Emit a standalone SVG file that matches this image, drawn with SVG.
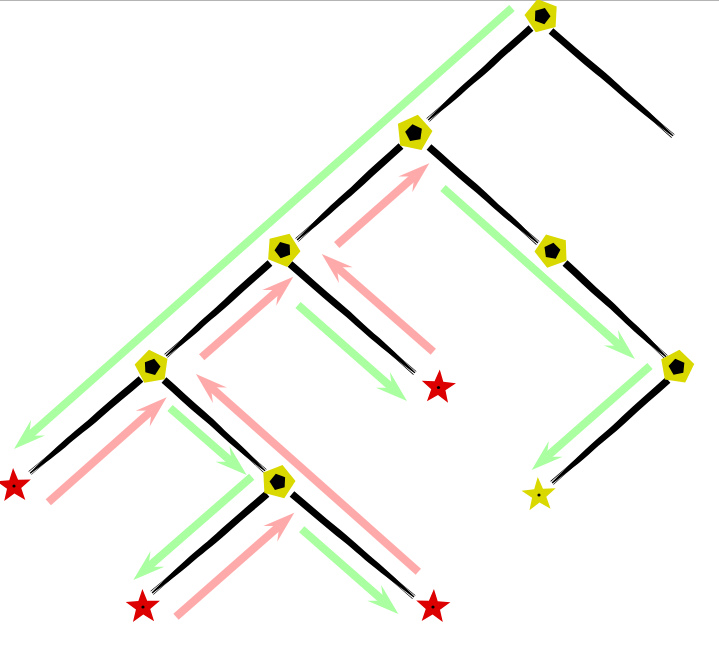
<svg xmlns="http://www.w3.org/2000/svg" xmlns:xlink="http://www.w3.org/1999/xlink" width="719" height="647" viewBox="0 0 719 647">
<style>
.g{stroke:#aaffa0;stroke-width:8;fill:none;marker-end:url(#hg)}
.p{stroke:#ffaaaa;stroke-width:8;fill:none;marker-end:url(#hp)}
.pent{fill:#d9d900}
.core{fill:#000}
.star{fill:#dd0000}
.ystar{fill:#d9d900}
.dot{fill:#000}
</style>
<defs>
<marker id="hg" markerUnits="userSpaceOnUse" orient="auto" refX="0" refY="0" markerWidth="40" markerHeight="30" overflow="visible"><path d="M20,0 L-12,-10.5 L0,0 L-12,10.5 Z" fill="#aaffa0"/></marker>
<marker id="hp" markerUnits="userSpaceOnUse" orient="auto" refX="0" refY="0" markerWidth="40" markerHeight="30" overflow="visible"><path d="M20,0 L-12,-10.5 L0,0 L-12,10.5 Z" fill="#ffaaaa"/></marker>
<g id="brush">
<path d="M0,-3.6 C12,-3.8 25,-3 38,-3.7 C50,-4.1 58,-2.6 70,-3.1 C82,-2.9 92,-1.7 100,-0.7 L100,0.5 C92,1.4 82,2.6 70,2.9 C58,3.3 50,2.4 38,3.3 C25,3.9 12,3.3 0,3.6 Z" fill="#000"/>
<path d="M70,-1.8 L100,-2.3 L100,-1.7 Z M70,1.8 L100,2.5 L100,1.8 Z" fill="#000"/>
</g>
<polygon id="pg" points="0,-17.5 16.64,-5.41 10.29,14.16 -10.29,14.16 -16.64,-5.41"/>
<polygon id="pk" points="0,-8.5 8.08,-2.63 5,6.88 -5,6.88 -8.08,-2.63"/>
<polygon id="st" points="0,-18 4.41,-6.07 17.12,-5.56 7.13,2.32 10.58,14.56 0,7.5 -10.58,14.56 -7.13,2.32 -17.12,-5.56 -4.41,-6.07"/>
</defs>
<rect x="0" y="0" width="719" height="647" fill="#fff"/>
<rect x="0" y="0" width="719" height="1" fill="#b4b4b4"/>
<g id="arrows">
<line class="g" x1="512" y1="8" x2="29" y2="435.7"/>
<line class="g" x1="443" y1="188" x2="620" y2="345.7"/>
<line class="g" x1="650" y1="366" x2="546.7" y2="456.8"/>
<line class="g" x1="298" y1="305" x2="392" y2="387.8"/>
<line class="g" x1="170" y1="408" x2="231.6" y2="461.8"/>
<line class="g" x1="251.7" y1="476.7" x2="148.4" y2="566.8"/>
<line class="g" x1="301.7" y1="529.3" x2="383.3" y2="600.8"/>
<line class="p" x1="336.7" y1="245" x2="414.3" y2="176.5"/>
<line class="p" x1="433.3" y1="351.7" x2="336.8" y2="267.2"/>
<line class="p" x1="201.7" y1="357.3" x2="278.3" y2="289.9"/>
<line class="p" x1="48.3" y1="502.3" x2="151.7" y2="410.6"/>
<line class="p" x1="418.3" y1="571.7" x2="210.9" y2="387.3"/>
<line class="p" x1="176" y1="616.7" x2="279.3" y2="525.9"/>
</g>
<g id="edges">
<use xlink:href="#brush" transform="translate(551,31) rotate(40.7) scale(1.61,1)"/>
<use xlink:href="#brush" transform="translate(531,28) rotate(138.2) scale(1.381,1)"/>
<use xlink:href="#brush" transform="translate(401,146) rotate(137.9) scale(1.402,1)"/>
<use xlink:href="#brush" transform="translate(429,147) rotate(41.4) scale(1.452,1)"/>
<use xlink:href="#brush" transform="translate(565,263) rotate(42.9) scale(1.38,1)"/>
<use xlink:href="#brush" transform="translate(290,264) rotate(41.1) scale(1.658,1)"/>
<use xlink:href="#brush" transform="translate(270,263) rotate(138.2) scale(1.395,1)"/>
<use xlink:href="#brush" transform="translate(141,379) rotate(139.7) scale(1.455,1)"/>
<use xlink:href="#brush" transform="translate(164,380) rotate(42) scale(1.36,1)"/>
<use xlink:href="#brush" transform="translate(267,494) rotate(139.3) scale(1.517,1)"/>
<use xlink:href="#brush" transform="translate(292,494) rotate(40.2) scale(1.597,1)"/>
<use xlink:href="#brush" transform="translate(668,380) rotate(138.4) scale(1.551,1)"/>
</g>
<g id="n1" transform="translate(542,16)"><use xlink:href="#pg" class="pent" transform="rotate(-15)"/><use xlink:href="#pk" class="core" transform="rotate(20)"/></g>
<g id="n2" transform="translate(414,133)"><use xlink:href="#pg" class="pent" transform="rotate(12) scale(1.06)"/><use xlink:href="#pk" class="core" transform="rotate(-10) scale(1.05)"/></g>
<g id="n3" transform="translate(283,250)"><use xlink:href="#pg" class="pent" transform="rotate(22)"/><use xlink:href="#pk" class="core" transform="rotate(-20)"/></g>
<g id="n4" transform="translate(152,367)"><use xlink:href="#pg" class="pent" transform="rotate(-10)"/><use xlink:href="#pk" class="core" transform="rotate(15)"/></g>
<g id="n5" transform="translate(278,482)"><use xlink:href="#pg" class="pent" transform="rotate(15)"/><use xlink:href="#pk" class="core" transform="rotate(-15)"/></g>
<g id="n6" transform="translate(552,251)"><use xlink:href="#pg" class="pent" transform="rotate(-20)"/><use xlink:href="#pk" class="core" transform="rotate(10)"/></g>
<g id="n7" transform="translate(677,367)"><use xlink:href="#pg" class="pent" transform="rotate(8)"/><use xlink:href="#pk" class="core" transform="rotate(-12)"/></g>
<g id="leaf1" transform="translate(14,486)"><use xlink:href="#st" class="star" transform="rotate(-3)"/><circle class="dot" r="1.6"/></g>
<g id="leaf2" transform="translate(438.5,387.5)"><use xlink:href="#st" class="star" transform="rotate(4)"/><circle class="dot" r="1.6"/></g>
<g id="leaf3" transform="translate(143,607)"><use xlink:href="#st" class="star" transform="rotate(-2)"/><circle class="dot" r="1.6"/></g>
<g id="leaf4" transform="translate(433,607)"><use xlink:href="#st" class="star" transform="rotate(3)"/><circle class="dot" r="1.6"/></g>
<g id="leaf5" transform="translate(539,495)"><use xlink:href="#st" class="ystar" transform="rotate(-4)"/><circle class="dot" r="1.6"/></g>
</svg>
